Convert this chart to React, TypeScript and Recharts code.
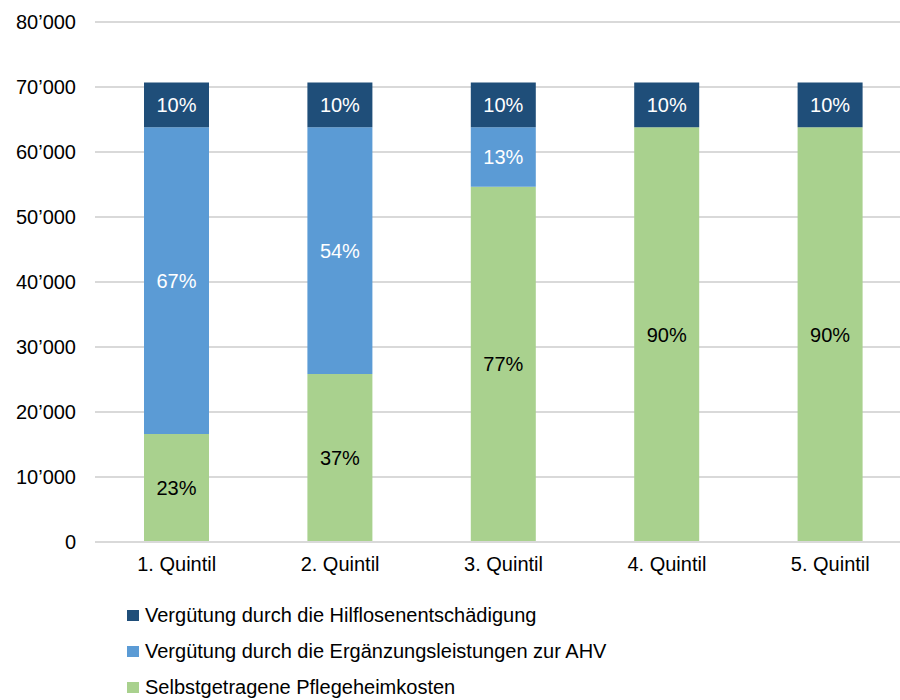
import { Bar, BarChart, CartesianGrid, LabelList, XAxis, YAxis } from "recharts";

const quintile = ["1. Quintil", "2. Quintil", "3. Quintil", "4. Quintil", "5. Quintil"];

// CHF per year, stacked bottom -> top
const selbst = [16600, 25850, 54650, 63800, 63800];
const ergaenzung = [47200, 37950, 9150, 0, 0];
const hilflos = [6900, 6900, 6900, 6900, 6900];

// shares printed in the segments
const selbstPct = [23, 37, 77, 90, 90];
const ergaenzungPct = [67, 54, 13, null, null];
const hilflosPct = [10, 10, 10, 10, 10];

const yTicks = [0, 10000, 20000, 30000, 40000, 50000, 60000, 70000, 80000];

const series = [
  { key: "hilflos", name: "Vergütung durch die Hilflosenentschädigung", color: "#1F4E79", text: "#ffffff" },
  { key: "ergaenzung", name: "Vergütung durch die Ergänzungsleistungen zur AHV", color: "#5B9BD5", text: "#ffffff" },
  { key: "selbst", name: "Selbstgetragene Pflegeheimkosten", color: "#A9D18E", text: "#000000" },
];

const data = quintile.map((q, i) => ({
  q,
  selbst: selbst[i],
  ergaenzung: ergaenzung[i],
  hilflos: hilflos[i],
  selbstPct: selbstPct[i],
  ergaenzungPct: ergaenzungPct[i],
  hilflosPct: hilflosPct[i],
}));

const font = "'Liberation Sans', Arial, sans-serif";
const tickStyle = { fontSize: 20, fill: "#000", fontFamily: font };

const fmtThousands = (v: number) => String(v).replace(/\B(?=(\d{3})+(?!\d))/g, "\u2019");
const fmtPct = (v: unknown) => (v == null ? "" : `${v}%`);

function segmentLabels(key: string, color: string) {
  return (
    <LabelList
      dataKey={`${key}Pct`}
      position="center"
      formatter={fmtPct}
      fill={color}
      style={{ fontSize: 20, fontFamily: font }}
    />
  );
}

export default function App() {
  return (
    <div style={{ position: "absolute", left: 0, top: 0, width: 900, height: 700, background: "#fff" }}>
      <BarChart
        width={900}
        height={700}
        data={data}
        margin={{ top: 22, right: 0, bottom: 118, left: 0 }}
        barSize={65}
      >
        <CartesianGrid vertical={false} stroke="#D9D9D9" strokeWidth={2} />
        <XAxis
          dataKey="q"
          padding={{ left: 0, right: -12 }}
          tick={tickStyle}
          tickLine={false}
          tickSize={0}
          tickMargin={15}
          axisLine={{ stroke: "#D9D9D9", strokeWidth: 2 }}
          height={40}
          interval={0}
        />
        <YAxis
          domain={[0, 80000]}
          ticks={yTicks}
          tickFormatter={fmtThousands}
          tick={tickStyle}
          tickLine={false}
          tickSize={0}
          tickMargin={19}
          axisLine={false}
          width={95}
        />
        <Bar dataKey="selbst" stackId="a" fill="#A9D18E" isAnimationActive={false}>
          {segmentLabels("selbst", "#000000")}
        </Bar>
        <Bar dataKey="ergaenzung" stackId="a" fill="#5B9BD5" isAnimationActive={false}>
          {segmentLabels("ergaenzung", "#ffffff")}
        </Bar>
        <Bar dataKey="hilflos" stackId="a" fill="#1F4E79" isAnimationActive={false}>
          {segmentLabels("hilflos", "#ffffff")}
        </Bar>
      </BarChart>
      {series.map((s, i) => (
        <div
          key={s.key}
          style={{
            position: "absolute",
            left: 127,
            top: 605 + i * 36,
            display: "flex",
            alignItems: "center",
            fontFamily: font,
            fontSize: 20,
            lineHeight: "20px",
            color: "#000",
            whiteSpace: "nowrap",
          }}
        >
          <span style={{ display: "inline-block", width: 12, height: 11, background: s.color, marginRight: 6 }} />
          {s.name}
        </div>
      ))}
    </div>
  );
}
